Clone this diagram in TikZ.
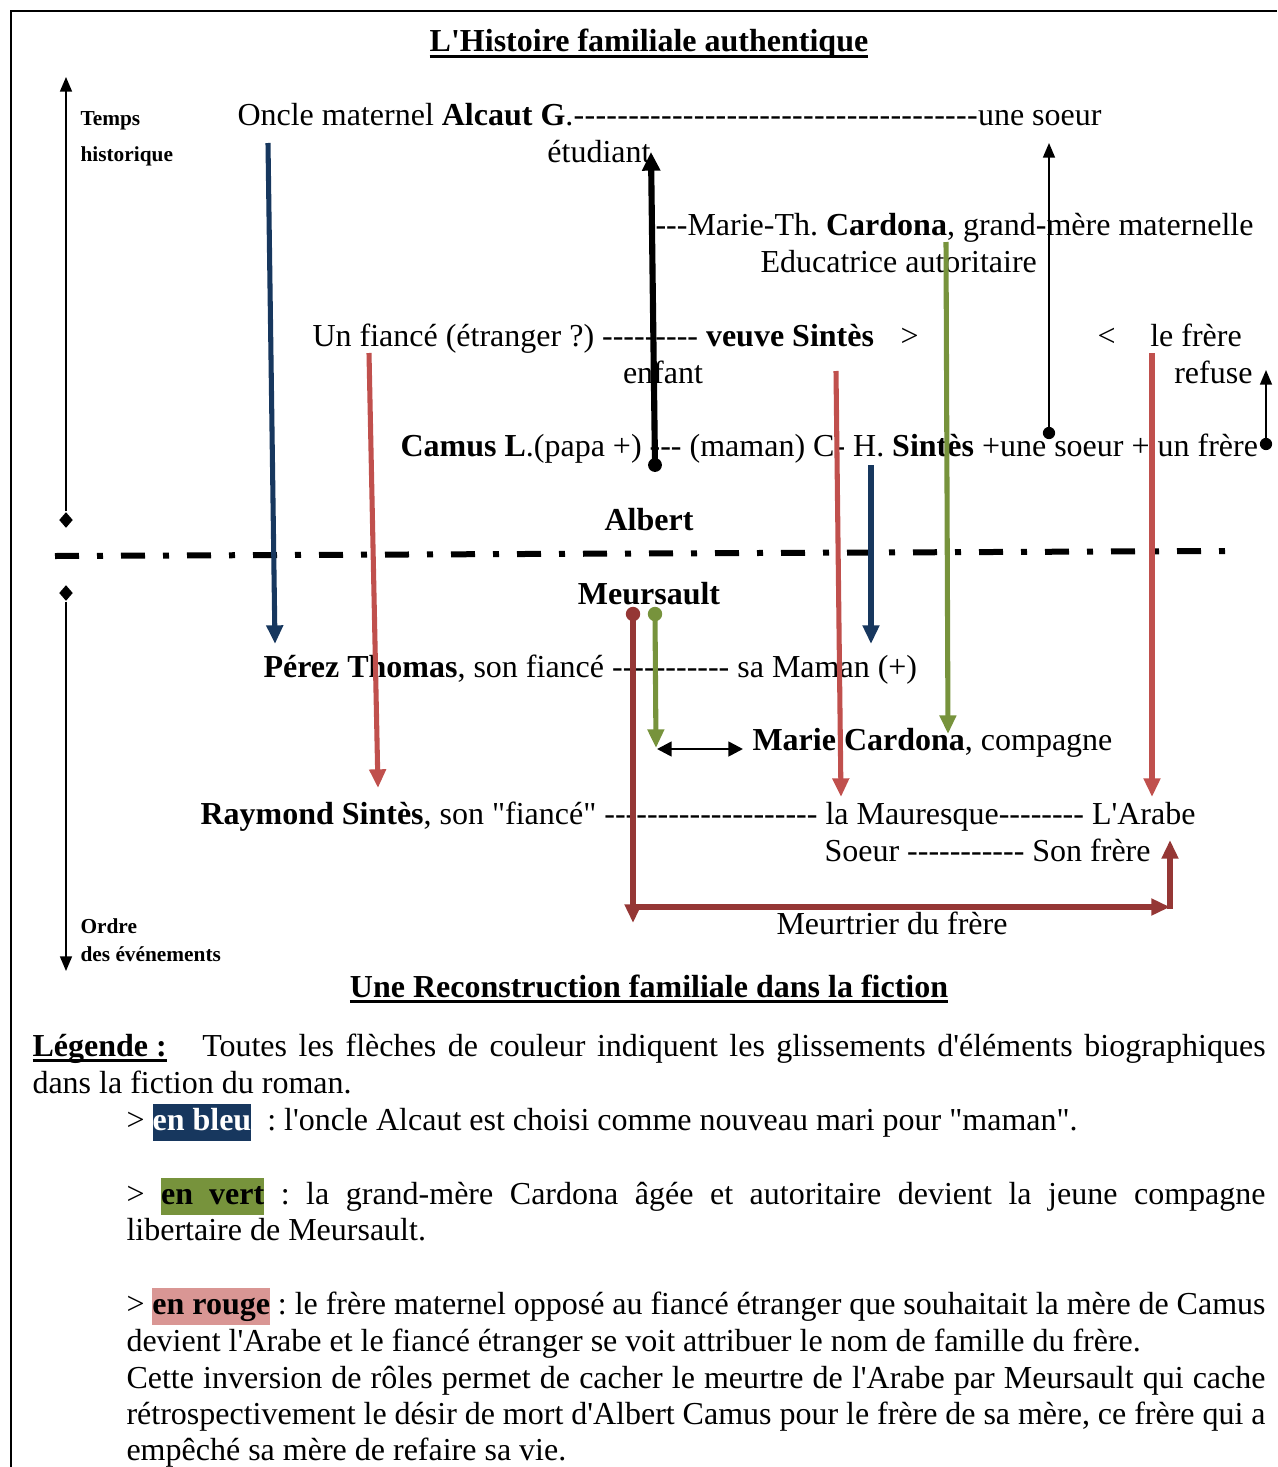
\documentclass[tikz,border=0pt]{standalone}
\usepackage{fontspec}
\setmainfont{Liberation Serif}[Ligatures=TeXOff]
\usetikzlibrary{arrows.meta,shapes.geometric}
\definecolor{cnavy}{RGB}{23,55,94}
\definecolor{cgreen}{RGB}{119,147,60}
\definecolor{cred}{RGB}{192,80,77}
\definecolor{cdred}{RGB}{149,55,53}
\definecolor{cpink}{RGB}{217,150,148}
\newcommand\myul[1]{\setbox0=\hbox{#1}\rlap{\rule[-2.4pt]{\wd0}{1.1pt}}\box0}
\setlength{\fboxsep}{0pt}
\frenchspacing
\begin{document}
\begin{tikzpicture}[x=0.375pt,y=-0.375pt,
  every node/.style={inner sep=0pt, font=\fontsize{12}{13.875}\selectfont\frenchspacing},
  txt/.style={anchor=base west},
  ctxt/.style={anchor=base},
  rtxt/.style={anchor=base east},
  small/.style={anchor=base west, font=\fontsize{8}{9.6}\selectfont\bfseries},
  carr/.style={line width=1.9pt, draw=#1, -{Triangle[length=7pt,width=6pt,fill=#1]}},
  thinarr/.style={line width=0.6pt, -{Triangle[length=5.5pt,width=4.5pt]}},
  bigarr/.style={line width=2.3pt, -{Triangle[length=7pt,width=6.5pt]}},
  dotc/.style={circle, fill=#1, inner sep=0pt, minimum size=5.4pt},
  dia/.style={diamond, fill=black, inner sep=0pt, minimum width=5.2pt, minimum height=6pt},
  dashdot/.style={line width=2.25pt, dash pattern=on 9pt off 6.75pt on 2.25pt off 6.75pt}]
\useasboundingbox (0,0) rectangle (1277,1467);
% frame
\draw[line width=0.8pt] (11,1467) -- (11,11) -- (1277,11);

% titles
\node[ctxt] (t1) at (649,52) {\myul{\textbf{L'Histoire familiale authentique}}};
\node[ctxt] (t2) at (649,997) {\myul{\textbf{Une Reconstruction familiale dans la fiction}}};

% axis labels
\node[small] (temps) at (80,125) {Temps};
\node[small] (hist) at (80,161) {historique};
\node[small] (ordre) at (80,933) {Ordre};
\node[small] (desev) at (80,961) {des événements};

% diagram texts
\node[txt] (oncle) at (237,125) {\hbox to 324pt{Oncle maternel \textbf{Alcaut G}.\xleaders\hbox{-}\hfill une soeur}};
\node[ctxt] (etud) at (599,162) {étudiant};
\node[txt] (marie) at (655,235) {---Marie-Th. \textbf{Cardona}, grand-mère maternelle};
\node[txt] (educ) at (760,272) {Educatrice autoritaire};
\node[txt] (fiance) at (312,346) {Un fiancé (étranger ?) --------- \textbf{veuve Sintès}\hspace{10pt}>};
\node[txt] (frere) at (1097,346) {<\hspace{13pt}le frère};
\node[ctxt] (enfant) at (663,383) {enfant};
\node[rtxt] (refuse) at (1253,383) {refuse};
\node[txt] (camus) at (400,456) {\textbf{Camus L}.(papa +) --- (maman) C- H. \textbf{Sintès} +une soeur + un frère};
\node[ctxt] (albert) at (649,530) {\textbf{Albert}};
\node[ctxt] (meurs) at (649,604) {\textbf{Meursault}};
\node[txt] (perez) at (263,677) {\textbf{Pérez Thomas}, son fiancé ----------- sa Maman (+)};
\node[txt] (mcard) at (752,750) {\textbf{Marie Cardona}, compagne};
\node[txt] (raym) at (200,824) {\textbf{Raymond Sintès}, son "fiancé" -------------------- la Mauresque-------- L'Arabe};
\node[txt] (soeur) at (824,861) {Soeur ----------- Son frère};
\node[ctxt] (meurt) at (892,934) {Meurtrier du frère};

% legend
\node[txt] (lg1) at (32,1056) {\makebox[462.4pt][s]{\myul{\textbf{Légende :}}\hspace{9pt} Toutes les flèches de couleur indiquent les glissements d'éléments biographiques}};
\node[txt] (lg2) at (32,1093) {dans la fiction du roman.};
\node[txt] (lg3) at (126,1130) {> \colorbox{cnavy}{\strut\textcolor{white}{\textbf{en bleu}}}\ \ : l'oncle Alcaut est choisi comme nouveau mari pour "maman".};
\node[txt] (lg4) at (126,1204) {\makebox[427.1pt][s]{> \colorbox{cgreen}{\strut\textbf{en\hspace{6pt}vert}} : la grand-mère Cardona âgée et autoritaire devient la jeune compagne}};
\node[txt] (lg5) at (126,1240) {libertaire de Meursault.};
\node[txt] (lg6) at (126,1314) {\makebox[427.1pt][s]{> \colorbox{cpink}{\strut\textbf{en rouge}} : le frère maternel opposé au fiancé étranger que souhaitait la mère de Camus}};
\node[txt] (lg7) at (126,1351) {devient l'Arabe et le fiancé étranger se voit attribuer le nom de famille du frère.};
\node[txt] (lg8) at (126,1388) {\makebox[427.1pt][s]{Cette inversion de rôles permet de cacher le meurtre de l'Arabe par Meursault qui cache}};
\node[txt] (lg9) at (126,1424) {\makebox[427.1pt][s]{rétrospectivement le désir de mort d'Albert Camus pour le frère de sa mère, ce frère qui a}};
\node[txt] (lg10) at (126,1460) {empêché sa mère de refaire sa vie.};

% separator
\coordinate (sepL) at (55,556);
\coordinate (sepR) at (1226,551);
\draw[dashdot] (sepL) -- (sepR);

% time axes
\node[dia] (d1) at (66,520) {};
\coordinate (d1tip) at (66,77);
\draw[thinarr] (d1) -- (d1tip);
\node[dia] (d2) at (66,593) {};
\coordinate (d2tip) at (66,971);
\draw[thinarr] (d2) -- (d2tip);

% coordinates of connectors
\coordinate (b1s) at (268,143);  \coordinate (b1e) at (275,644);
\coordinate (r1s) at (369,353);  \coordinate (r1e) at (378,788);
\coordinate (r2s) at (836,371);  \coordinate (r2e) at (841,797);
\coordinate (r3s) at (1152,353); \coordinate (r3e) at (1152,797);
\coordinate (g1s) at (946,242);  \coordinate (g1e) at (948,734);
\coordinate (b2s) at (871,465);  \coordinate (b2e) at (871,644);
\coordinate (k1e) at (651,152);
\coordinate (k2e) at (1049,143);
\coordinate (k3e) at (1266,370);
\coordinate (drE) at (633,923);
\coordinate (drH1) at (633,907); \coordinate (drH2) at (1170,907);
\coordinate (drV1) at (1170,909); \coordinate (drV2) at (1170,840);
\coordinate (g2e) at (656,748);
\coordinate (dbl1) at (657,749); \coordinate (dbl2) at (743,749);

% black arrows with dots
\node[dotc=black, minimum size=5.2pt] (k1s) at (655,465) {};
\draw[bigarr] (k1s.center) -- (k1e);
\node[dotc=black, minimum size=4.6pt] (k2s) at (1049,433) {};
\draw[thinarr] (k2s.center) -- (k2e);
\node[dotc=black, minimum size=4.6pt] (k3s) at (1266,444) {};
\draw[thinarr] (k3s.center) -- (k3e);

% coloured arrows
\draw[carr=cnavy] (b1s) -- (b1e);
\draw[carr=cnavy] (b2s) -- (b2e);
\draw[carr=cred] (r1s) -- (r1e);
\draw[carr=cred] (r2s) -- (r2e);
\draw[carr=cred] (r3s) -- (r3e);
\draw[carr=cgreen] (g1s) -- (g1e);

% Meursault arrows
\node[dotc=cdred] (drs) at (633,614) {};
\draw[carr=cdred] (drs.center) -- (drE);
\draw[carr=cdred] (drH1) -- (drH2);
\draw[carr=cdred] (drV1) -- (drV2);
\node[dotc=cgreen] (g2s) at (655,614) {};
\draw[carr=cgreen] (g2s.center) -- (g2e);
\draw[line width=1pt, {Triangle[length=5.5pt,width=5.5pt]}-{Triangle[length=5.5pt,width=5.5pt]}] (dbl1) -- (dbl2);
\end{tikzpicture}
\end{document}
